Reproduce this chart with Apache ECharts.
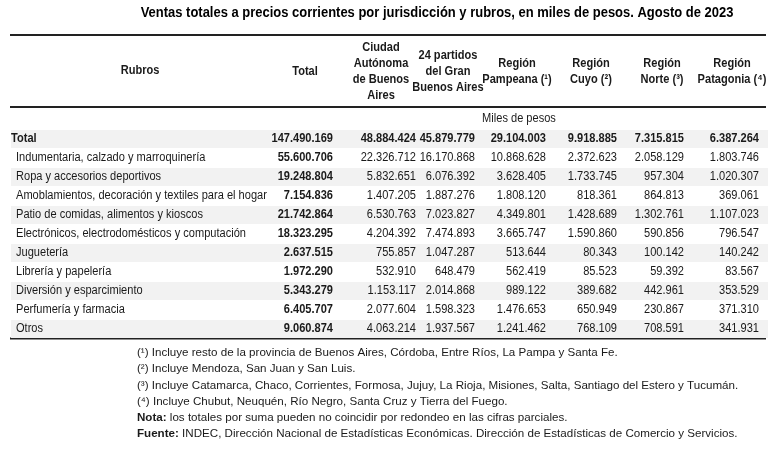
<!DOCTYPE html>
<html><head><meta charset="utf-8">
<script src="https://cdn.jsdelivr.net/npm/echarts@6/dist/echarts.min.js"></script>
<style>html,body{margin:0;padding:0;background:#fff}#c{width:775px;height:449px}</style>
</head><body><div id="c"></div>
<script>
const titleText = 'Ventas totales a precios corrientes por jurisdicción y rubros, en miles de pesos. Agosto de 2023';
const rubros = ['Total','Indumentaria, calzado y marroquinería','Ropa y accesorios deportivos','Amoblamientos, decoración y textiles para el hogar','Patio de comidas, alimentos y kioscos','Electrónicos, electrodomésticos y computación','Juguetería','Librería y papelería','Diversión y esparcimiento','Perfumería y farmacia','Otros'];
const total = [147490169,55600706,19248804,7154836,21742864,18323295,2637515,1972290,5343279,6405707,9060874];
const caba = [48884424,22326712,5832651,1407205,6530763,4204392,755857,532910,1153117,2077604,4063214];
const gba = [45879779,16170868,6076392,1887276,7023827,7474893,1047287,648479,2014868,1598323,1937567];
const pampeana = [29104003,10868628,3628405,1808120,4349801,3665747,513644,562419,989122,1476653,1241462];
const cuyo = [9918885,2372623,1733745,818361,1428689,1590860,80343,85523,389682,650949,768109];
const norte = [7315815,2058129,957304,864813,1302761,590856,100142,59392,442961,230867,708591];
const patagonia = [6387264,1803746,1020307,369061,1107023,796547,140242,83567,353529,371310,341931];
const headerRubros = 'Rubros';
const headerCols = [['Total'],['Ciudad','Autónoma','de Buenos','Aires'],['24 partidos','del Gran','Buenos Aires'],['Región','Pampeana (¹)'],['Región','Cuyo (²)'],['Región','Norte (³)'],['Región','Patagonia (⁴)']];
const unitLabel = 'Miles de pesos';
const footnotes = [
 '(¹) Incluye resto de la provincia de Buenos Aires, Córdoba, Entre Ríos, La Pampa y Santa Fe.',
 '(²) Incluye Mendoza, San Juan y San Luis.',
 '(³) Incluye Catamarca, Chaco, Corrientes, Formosa, Jujuy, La Rioja, Misiones, Salta, Santiago del Estero y Tucumán.',
 '(⁴) Incluye Chubut, Neuquén, Río Negro, Santa Cruz y Tierra del Fuego.',
 '{b|Nota:} los totales por suma pueden no coincidir por redondeo en las cifras parciales.',
 '{b|Fuente:} INDEC, Dirección Nacional de Estadísticas Económicas. Dirección de Estadísticas de Comercio y Servicios.'
];

// layout (positions, not data)
const FONT = '"Liberation Sans", Arial, sans-serif';
const FS = 12.5;
const SX = 0.885;
const FN = 11.6;
const columns = [total, caba, gba, pampeana, cuyo, norte, patagonia];
const colRight = [333, 416, 475, 546, 617, 684, 759];
const headCenter = [305, 381, 448, 517, 591, 662, 732];
const TXT = '#1a1a1a';

function fmt(v){ return String(v).replace(/\B(?=(\d{3})+(?!\d))/g, '.'); }
function txt(x, y, text, opts){
  opts = opts || {};
  const size = opts.size || FS;
  return {type:'text', x:x, y:y, scaleX: opts.sx || SX, silent:true, z: 10,
    style:{text:text, x:0, y:0, fill:opts.fill || TXT, font:(opts.bold?'bold ':'')+size+'px '+FONT,
      textAlign:opts.align || 'left', textVerticalAlign:'middle', rich: opts.rich}};
}

const chart = echarts.init(document.getElementById('c'), null, {renderer:'canvas'});

const series = [];
series.push({
  type:'custom', silent:true, z:1,
  data: rubros.map((r,i)=>[i]),
  renderItem(params, api){
    const i = api.value(0);
    if (i % 2 !== 0) return null;
    const p0 = api.coord([11, i]);
    const p1 = api.coord([768, i]);
    const h = api.size([0,1])[1];
    return {type:'rect', shape:{x:p0[0], y:p0[1]-h/2+0.5, width:p1[0]-p0[0], height:h-1}, style:{fill:'#f2f2f2'}};
  }
});
series.push({
  type:'custom', silent:true, z:3,
  data: rubros.map((r,i)=>[i]),
  renderItem(params, api){
    const i = api.value(0);
    const p = api.coord([i===0 ? 11 : 16, i]);
    return txt(p[0], p[1], rubros[i], {bold: i===0});
  }
});
columns.forEach((col, c)=>{
  series.push({
    type:'custom', silent:true, z:3,
    data: col.map((v,i)=>[i, v]),
    renderItem(params, api){
      const i = api.value(0);
      const v = api.value(1);
      const p = api.coord([colRight[c], i]);
      return txt(p[0], p[1], fmt(v), {bold:(c===0 || i===0), align:'right'});
    }
  });
});

const graphic = [];
graphic.push(txt(437, 13, titleText, {bold:true, align:'center', fill:'#000', size:15, sx:0.865}));
graphic.push({type:'line', shape:{x1:10,y1:35,x2:766,y2:35}, style:{stroke:'#222', lineWidth:2}});
graphic.push({type:'line', shape:{x1:10,y1:107,x2:766,y2:107}, style:{stroke:'#222', lineWidth:2}});
graphic.push({type:'line', shape:{x1:10,y1:338.5,x2:766,y2:338.5}, style:{stroke:'#222', lineWidth:2}});
graphic.push(txt(140, 71, headerRubros, {bold:true, align:'center'}));
headerCols.forEach((lines, c)=>{
  const n = lines.length;
  const lh = 15.7;
  lines.forEach((t, k)=>{
    const y = 71.5 + (k - (n-1)/2) * lh;
    graphic.push(txt(headCenter[c], y, t, {bold:true, align:'center'}));
  });
});
graphic.push(txt(519, 119, unitLabel, {align:'center'}));
footnotes.forEach((t, k)=>{
  graphic.push(txt(137, 353 + k*16.2, t, {size:FN, sx:1, rich:{b:{fontWeight:'bold', fontSize:FN, fontFamily:FONT, fill:TXT}}}));
});

chart.setOption({
  animation:false,
  backgroundColor:'#fff',
  grid:{left:0, right:0, top:129.5, height:209},
  xAxis:{type:'value', min:0, max:775, show:false},
  yAxis:{type:'category', data:rubros, inverse:true, show:false},
  series: series,
  graphic: graphic
});
</script></body></html>
